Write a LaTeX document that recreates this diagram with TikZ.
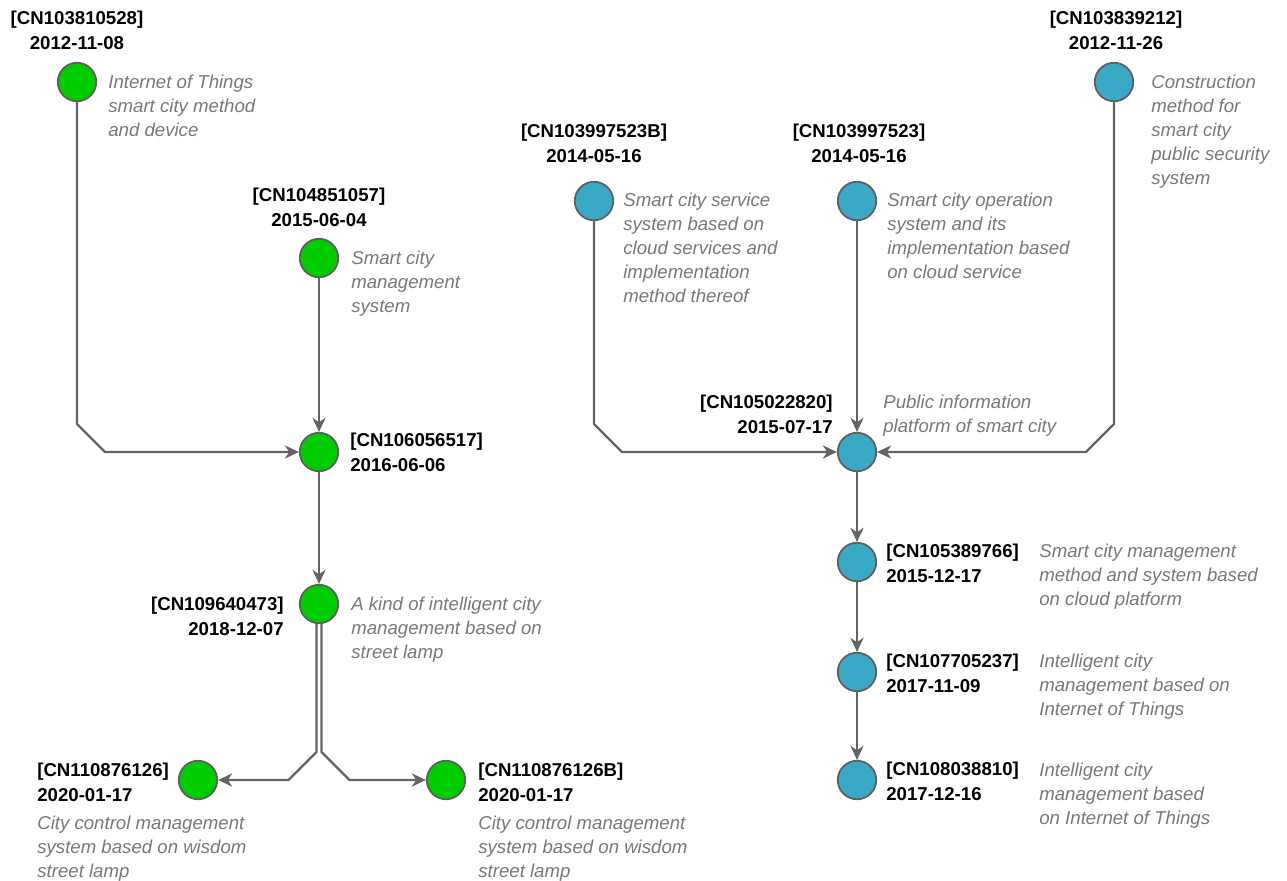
\documentclass[tikz,border=0pt]{standalone}
\usepackage{fontspec}
\setmainfont{Liberation Sans}
\usetikzlibrary{arrows.meta}
\definecolor{pgreen}{RGB}{0,204,0}
\definecolor{pblue}{RGB}{58,169,198}
\definecolor{edgegray}{RGB}{100,100,100}
\definecolor{rimgray}{RGB}{95,95,95}
\definecolor{descgray}{RGB}{120,120,120}
\tikzset{
  patent/.style={circle, draw=rimgray, line width=1pt, minimum size=0.77cm, inner sep=0pt},
  gnode/.style={patent, fill=pgreen},
  bnode/.style={patent, fill=pblue},
  idtext/.style={font=\fontsize{10.6}{13.8}\selectfont\bfseries, text=black, inner sep=0pt},
  desc/.style={font=\fontsize{10.6}{13.6}\selectfont\itshape, text=descgray, inner sep=0pt, align=left},
  conn/.style={draw=edgegray, line width=1.3pt, line join=round,
    -{Stealth[length=8pt,width=7.5pt,inset=2.5pt]}},
}
\begin{document}
\begin{tikzpicture}[x=0.02cm, y=-0.02cm]
\useasboundingbox (0,0) rectangle (1287,880);

% ---- left family (green) ----
\node[gnode] (A) at (77,82) {};
\node[idtext, align=center, anchor=north] (Aid) at (77,11) {[CN103810528]\\2012-11-08};
\node[desc, anchor=north west] (Atx) at (108,75) {Internet of Things\\smart city method\\and device};

\node[gnode] (B) at (319,258) {};
\node[idtext, align=center, anchor=north] (Bid) at (319,188) {[CN104851057]\\2015-06-04};
\node[desc, anchor=north west] (Btx) at (351,251) {Smart city\\management\\system};

\node[gnode] (C) at (319,452) {};
\node[idtext, align=left, anchor=north west] (Cid) at (350,433) {[CN106056517]\\2016-06-06};

\node[gnode] (D) at (319,604) {};
\node[idtext, align=right, anchor=north east] (Did) at (284,597) {[CN109640473]\\2018-12-07};
\node[desc, anchor=north west] (Dtx) at (351,597) {A kind of intelligent city\\management based on\\street lamp};

\node[gnode] (E) at (198,780) {};
\node[idtext, align=left, anchor=north west] (Eid) at (37,763) {[CN110876126]\\2020-01-17};
\node[desc, anchor=north west] (Etx) at (37,816) {City control management\\system based on wisdom\\street lamp};

\node[gnode] (F) at (446,780) {};
\node[idtext, align=left, anchor=north west] (Fid) at (478,763) {[CN110876126B]\\2020-01-17};
\node[desc, anchor=north west] (Ftx) at (478,816) {City control management\\system based on wisdom\\street lamp};

% ---- right family (blue) ----
\node[bnode] (G) at (594,201) {};
\node[idtext, align=center, anchor=north] (Gid) at (594,124) {[CN103997523B]\\2014-05-16};
\node[desc, anchor=north west] (Gtx) at (623,193) {Smart city service\\system based on\\cloud services and\\implementation\\method thereof};

\node[bnode] (H) at (857,201) {};
\node[idtext, align=center, anchor=north] (Hid) at (859,124) {[CN103997523]\\2014-05-16};
\node[desc, anchor=north west] (Htx) at (887,193) {Smart city operation\\system and its\\implementation based\\on cloud service};

\node[bnode] (I) at (1114,82) {};
\node[idtext, align=center, anchor=north] (Iid) at (1116,11) {[CN103839212]\\2012-11-26};
\node[desc, anchor=north west] (Itx) at (1151,75) {Construction\\method for\\smart city\\public security\\system};

\node[bnode] (J) at (857,452) {};
\node[idtext, align=right, anchor=north east] (Jid) at (833,395) {[CN105022820]\\2015-07-17};
\node[desc, anchor=north west] (Jtx) at (883,395) {Public information\\platform of smart city};

\node[bnode] (K) at (857,562) {};
\node[idtext, align=left, anchor=north west] (Kid) at (886,544) {[CN105389766]\\2015-12-17};
\node[desc, anchor=north west] (Ktx) at (1039,544) {Smart city management\\method and system based\\on cloud platform};

\node[bnode] (L) at (857,672) {};
\node[idtext, align=left, anchor=north west] (Lid) at (886,654) {[CN107705237]\\2017-11-09};
\node[desc, anchor=north west] (Ltx) at (1039,654) {Intelligent city\\management based on\\Internet of Things};

\node[bnode] (M) at (857,780) {};
\node[idtext, align=left, anchor=north west] (Mid) at (886,762) {[CN108038810]\\2017-12-16};
\node[desc, anchor=north west] (Mtx) at (1039,763) {Intelligent city\\management based\\on Internet of Things};

% ---- citation links ----
\draw[conn] (A) -- (77,424) -- (105,452) -- (C);
\draw[conn] (B) -- (C);
\draw[conn] (C) -- (D);
\draw[conn] ([xshift=-0.05cm]D.south) -- (316.5,752) -- (288.5,780) -- (E);
\draw[conn] ([xshift=0.05cm]D.south) -- (321.5,752) -- (349.5,780) -- (F);

\draw[conn] (G) -- (594,424) -- (622,452) -- (J);
\draw[conn] (H) -- (J);
\draw[conn] (I) -- (1114,424) -- (1086,452) -- (J);
\draw[conn] (J) -- (K);
\draw[conn] (K) -- (L);
\draw[conn] (L) -- (M);
\end{tikzpicture}
\end{document}
